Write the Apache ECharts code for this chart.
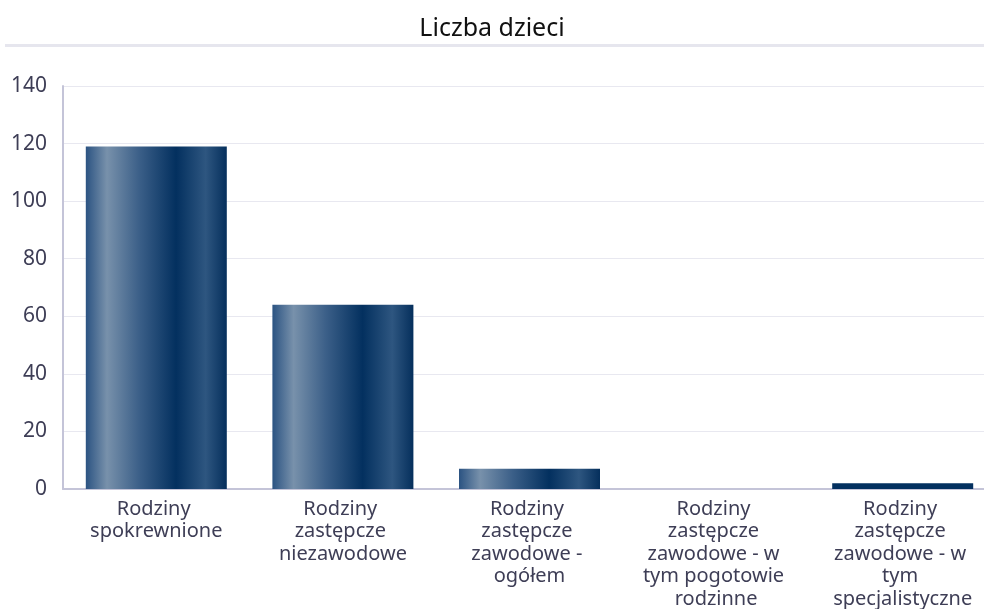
<!DOCTYPE html>
<html><head><meta charset="utf-8">
<script src="https://cdn.jsdelivr.net/npm/echarts@6/dist/echarts.min.js"></script>
<style>html,body{margin:0;padding:0;background:#fff}#c{width:984px;height:609px}</style>
</head><body><div id="c"></div>
<script>
const titleText = "Liczba dzieci";
const categories = ["Rodziny spokrewnione", "Rodziny zastępcze niezawodowe", "Rodziny zastępcze zawodowe - ogółem", "Rodziny zastępcze zawodowe - w tym pogotowie rodzinne", "Rodziny zastępcze zawodowe - w tym specjalistyczne"];
const values = [119, 64, 7, 0, 2];
const yTicks = [0, 20, 40, 60, 80, 100, 120, 140];

const FONT = "Noto Sans";
const grad = new echarts.graphic.LinearGradient(0, 0, 1, 0, [
  {offset: 0, color: '#2b5382'},
  {offset: 0.15, color: '#7891ab'},
  {offset: 0.38, color: '#3b5f88'},
  {offset: 0.64, color: '#03305f'},
  {offset: 0.85, color: '#2e5680'},
  {offset: 1, color: '#052f5c'}
]);
const chart = echarts.init(document.getElementById('c'), null, {renderer: 'canvas'});
chart.setOption({
  animation: false,
  title: {text: titleText, left: 'center', top: 11, textStyle: {fontFamily: FONT, fontSize: 25, fontWeight: 'normal', color: '#111'}},
  graphic: [{type: 'rect', shape: {x: 5, y: 44, width: 979, height: 3}, style: {fill: '#e6e6ee'}}],
  grid: {left: 63, top: 86, right: -12, height: 403, containLabel: false, outerBoundsMode: 'none'},
  xAxis: {
    type: 'category', data: categories,
    axisLine: {lineStyle: {color: '#c4c4d8', width: 2}},
    axisTick: {show: false},
    axisLabel: {interval: 0, margin: 9, fontFamily: FONT, fontSize: 20, color: '#3e3e56', lineHeight: 22.5, width: 165, overflow: 'break', align: 'center'}
  },
  yAxis: {
    type: 'value', min: yTicks[0], max: yTicks[yTicks.length-1], interval: 20,
    axisLine: {show: true, lineStyle: {color: '#c4c4d8', width: 2}},
    axisTick: {show: false},
    splitLine: {lineStyle: {color: '#e8e8f0', width: 1}},
    axisLabel: {margin: 16, fontFamily: FONT, fontSize: 21, color: '#3e3e56'}
  },
  series: [{
    type: 'bar', barWidth: 141,
    data: values.map((v, i) => i === 4 ? {value: v, itemStyle: {color: '#03305f'}} : v),
    itemStyle: {color: grad}
  }]
});
</script></body></html>
